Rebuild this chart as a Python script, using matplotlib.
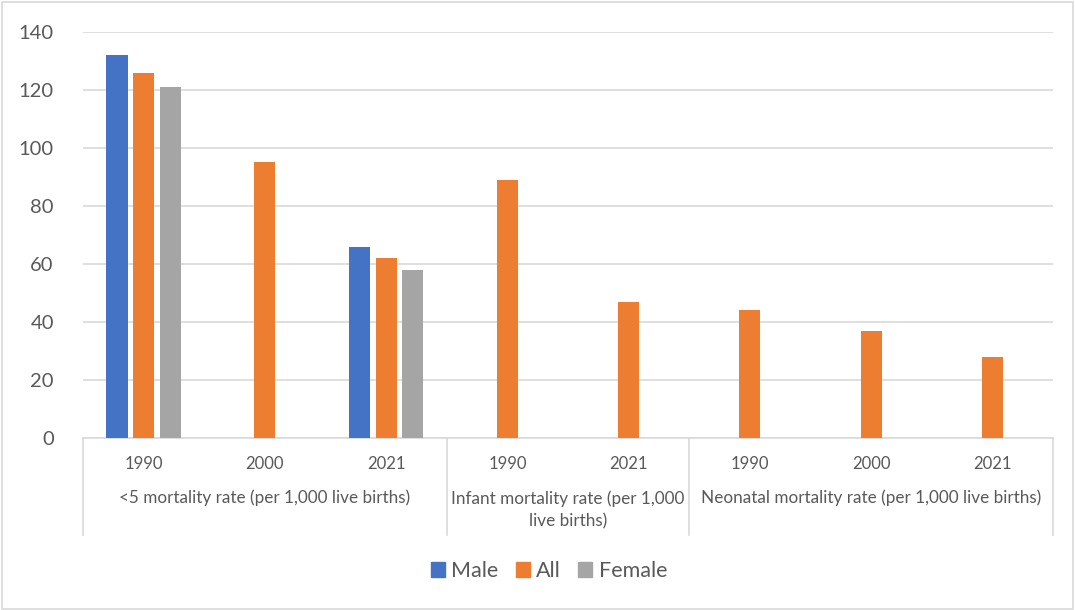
import matplotlib
matplotlib.use("Agg")
import matplotlib.pyplot as plt
from matplotlib.patches import Rectangle
from matplotlib.lines import Line2D
import numpy as np

plt.rcParams['font.family'] = ['Lato', 'DejaVu Sans']

years = ["1990", "2000", "2021", "1990", "2021", "1990", "2000", "2021"]
groups = ["<5 mortality rate (per 1,000 live births)",
          "Infant mortality rate (per 1,000\nlive births)",
          "Neonatal mortality rate (per 1,000 live births)"]
group_sizes = [3, 2, 3]
male = [132, None, 66, None, None, None, None, None]
all_ = [126, 95, 62, 89, 47, 44, 37, 28]
female = [121, None, 58, None, None, None, None, None]
series_names = ["Male", "All", "Female"]
colors = ["#4472C4", "#ED7D31", "#A5A5A5"]
yticks = [0, 20, 40, 60, 80, 100, 120, 140]

W, H = 1075, 610
fig = plt.figure(figsize=(W / 100, H / 100), dpi=100)
ax = fig.add_axes([83 / W, 1 - 438 / H, (1053 - 83) / W, (438 - 32) / H])

n = len(years)
x = np.arange(n)
bw = 0.175
offs = [-0.22, 0.0, 0.22]
for vals, off, c, name in zip([male, all_, female], offs, colors, series_names):
    xs = [xi + off for xi, v in zip(x, vals) if v is not None]
    vs = [v for v in vals if v is not None]
    ax.bar(xs, vs, width=bw, color=c, label=name, zorder=3)

ax.set_xlim(-0.5, n - 0.5)
ax.set_ylim(0, 140)
ax.set_yticks(yticks)
ax.yaxis.grid(True, color="#D9D9D9", linewidth=1.2, zorder=0)
ax.set_axisbelow(True)
for s in ["top", "right", "left"]:
    ax.spines[s].set_visible(False)
ax.spines["bottom"].set_color("#D9D9D9")
ax.spines["bottom"].set_linewidth(1.2)
ax.tick_params(axis="y", length=0, pad=21, labelsize=14.5, labelcolor="#595959")
ax.tick_params(axis="x", length=0, labelbottom=False)

# multi-level category axis
trans = ax.get_xaxis_transform()
def ypx(py):
    # convert pixel y (from top) to axes fraction
    return (438 - py) / (438 - 32)

for xi, yr in zip(x, years):
    ax.text(xi, ypx(464), yr, transform=trans, ha="center", va="center",
            fontsize=12, color="#595959")

start = 0
bounds = [-0.5]
for g, sz in zip(groups, group_sizes):
    center = start + (sz - 1) / 2
    ax.text(center, ypx(498) if "\n" not in g else ypx(510), g, transform=trans,
            ha="center", va="center", fontsize=12.3, color="#595959",
            linespacing=1.45)
    start += sz
    bounds.append(start - 0.5)

for b in bounds:
    ax.add_line(Line2D([b, b], [0, ypx(535)], transform=trans, color="#D9D9D9",
                       linewidth=1.2, clip_on=False))

# legend
handles = [Rectangle((0, 0), 1, 1, color=c) for c in colors]
leg = fig.legend(handles, series_names, loc="center", bbox_to_anchor=(549 / W, 1 - 571 / H),
                 ncol=3, frameon=False, fontsize=15.5, handlelength=0.65, handleheight=0.65,
                 handletextpad=0.3, columnspacing=0.8, labelcolor="#595959")

# outer border
fig.patches.append(Rectangle((1.5 / W, 1.5 / H), (W - 4) / W, (H - 3.5) / H,
                             transform=fig.transFigure, fill=False,
                             edgecolor="#D9D9D9", linewidth=1.2))

fig.savefig("out.png", dpi=100)
